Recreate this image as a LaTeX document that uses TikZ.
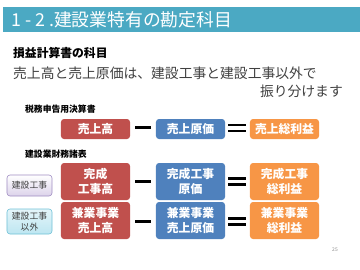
\documentclass[tikz,border=0pt]{standalone}
\usepackage{fontspec}
\setmainfont{Noto Sans CJK JP}
\definecolor{titlebar}{HTML}{4BA9C3}
\definecolor{boxred}{HTML}{C0504D}
\definecolor{boxblue}{HTML}{4F81BD}
\definecolor{boxorange}{HTML}{F79646}
\definecolor{textgray}{HTML}{404040}
\definecolor{purpleedge}{HTML}{9F8CC2}
\definecolor{purplefill}{HTML}{DCD3EA}
\definecolor{cyanedge}{HTML}{6FC0D6}
\definecolor{cyanfill}{HTML}{BDE6F1}
\begin{document}
\begin{tikzpicture}[x=1bp,y=-1bp,
  box/.style={rounded corners=3bp, minimum width=69bp, text=white,
    font=\fontsize{11.8bp}{14.5bp}\selectfont\bfseries, align=center, inner sep=0pt},
  onebox/.style={box, minimum height=20bp},
  twobox/.style={box, minimum height=37bp},
  sidebox/.style={rounded corners=3bp, minimum width=45bp, inner sep=0pt, align=center,
    text=textgray, font=\fontsize{8.8bp}{11bp}\selectfont, line width=0.6bp},
  opbar/.style={fill=black}]
\useasboundingbox (0,0) rectangle (360,270);
% title bar
\fill[titlebar] (3,7) rectangle (360,32);
\node[anchor=west, text=white, inner sep=0pt, font=\fontsize{17.8bp}{20bp}\selectfont] (title) at (11,19.5) {1 - 2 .建設業特有の勘定科目};
% texts
\node[anchor=west, inner sep=0pt, text=black, font=\fontsize{11.8bp}{14bp}\selectfont\bfseries] (head) at (13,53) {損益計算書の科目};
\node[anchor=west, inner sep=0pt, text=textgray, font=\fontsize{13.8bp}{16bp}\selectfont] (line1) at (13,73) {売上高と売上原価は、建設工事と建設工事以外で};
\node[anchor=east, inner sep=0pt, text=textgray, font=\fontsize{13.8bp}{16bp}\selectfont] (line2) at (343,91.5) {振り分けます};
\node[anchor=west, inner sep=0pt, text=black, font=\fontsize{8.8bp}{10bp}\selectfont\bfseries] (sub1) at (25,109) {税務申告用決算書};
\node[anchor=west, inner sep=0pt, text=black, font=\fontsize{8.8bp}{10bp}\selectfont\bfseries] (sub2) at (25,154) {建設業財務諸表};
% row 1
\node[onebox, fill=boxred] (r1a) at (95.5,129) {売上高};
\node[onebox, fill=boxblue] (r1b) at (190.5,129) {売上原価};
\node[onebox, fill=boxorange] (r1c) at (284.5,129) {売上総利益};
% row 2
\node[twobox, fill=boxred] (r2a) at (95.5,181.5) {完成\\工事高};
\node[twobox, fill=boxblue] (r2b) at (190.5,181.5) {完成工事\\原価};
\node[twobox, fill=boxorange] (r2c) at (284.5,181.5) {完成工事\\総利益};
% row 3
\node[twobox, fill=boxred] (r3a) at (95.5,220.5) {兼業事業\\売上高};
\node[twobox, fill=boxblue] (r3b) at (190.5,220.5) {兼業事業\\売上原価};
\node[twobox, fill=boxorange] (r3c) at (284.5,220.5) {兼業事業\\総利益};
% side boxes
\node[sidebox, draw=purpleedge, top color=white, bottom color=purplefill, minimum height=21bp] (s1) at (29.5,185.5) {建設工事};
\node[sidebox, draw=cyanedge, top color=white!60!cyanfill, bottom color=cyanfill, minimum height=25bp] (s2) at (29.5,221.5) {建設工事\\以外};
% operators
\foreach \y in {127.5,181.5,221.5}{
  \fill[opbar] (135,\y-1.7) rectangle (151,\y+1.7);
}
\foreach \y in {128,181.5,221.5}{
  \fill[opbar] (228,\y-4.2) rectangle (245.5,\y-1.8);
  \fill[opbar] (228,\y+1.8) rectangle (245.5,\y+4.2);
}
% page number
\node[inner sep=0pt, text=black!45, font=\fontsize{5bp}{6bp}\selectfont] (pg) at (335,250) {25};
\end{tikzpicture}
\end{document}
